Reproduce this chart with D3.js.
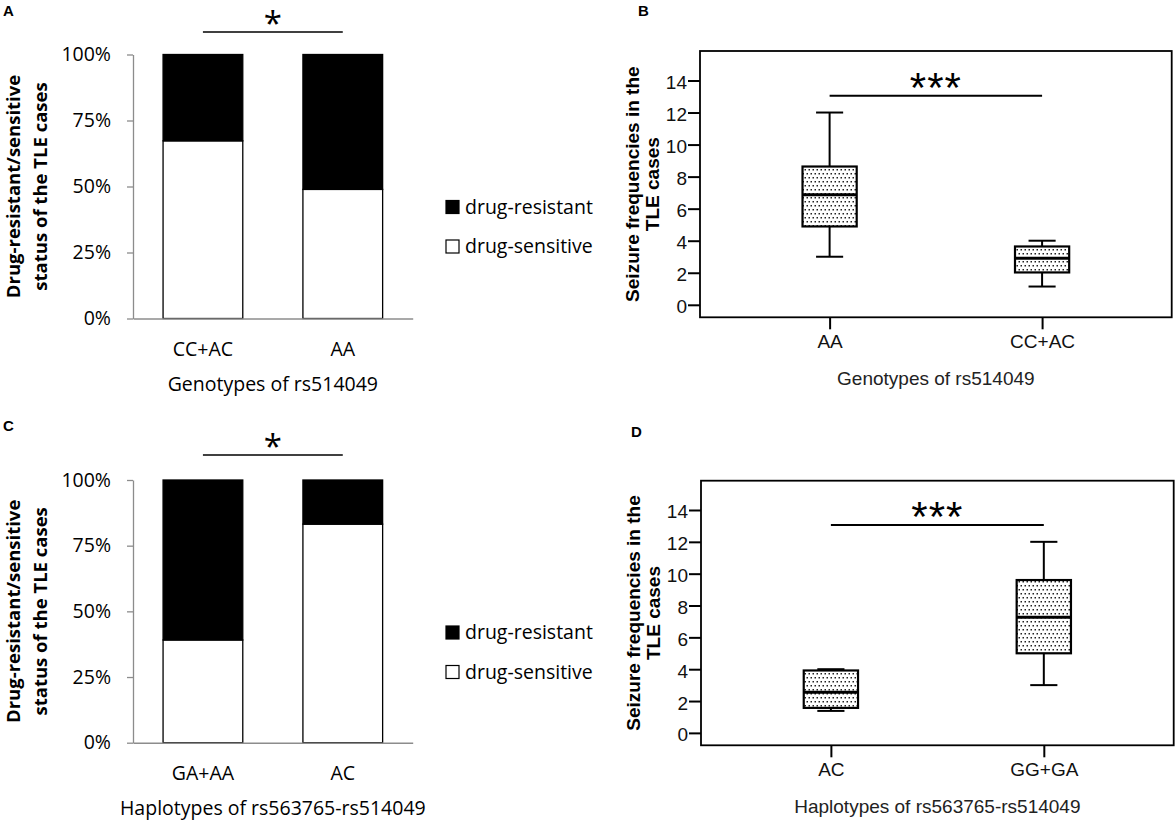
<!DOCTYPE html>
<html>
<head>
<meta charset="utf-8">
<script src="https://cdn.jsdelivr.net/npm/d3@7"></script>
<style>
  body { margin: 0; background: #fff; }
</style>
</head>
<body>
<svg id="fig" width="1176" height="822"></svg>
<script>
// ---- data ----
const stackKeys = ["drug-sensitive", "drug-resistant"];
const percentTicks = [0, 0.25, 0.5, 0.75, 1];

// A: genotypes of rs514049, share of drug-sensitive cases
const genotypesA = ["CC+AC", "AA"];
const sensitiveA = [0.673, 0.489];

// C: haplotypes of rs563765-rs514049
const haplotypesC = ["GA+AA", "AC"];
const sensitiveC = [0.391, 0.832];

// B: seizure frequencies by genotype (box stats)
const genotypesB = ["AA", "CC+AC"];
const minB = [3.0, 1.14];
const q1B = [4.89, 2.02];
const medianB = [6.87, 2.91];
const q3B = [8.63, 3.64];
const maxB = [12.0, 4.0];

// D: seizure frequencies by haplotype
const haplotypesD = ["AC", "GG+GA"];
const minD = [1.38, 3.0];
const q1D = [1.57, 5.0];
const medianD = [2.55, 7.26];
const q3D = [3.92, 9.6];
const maxD = [4.0, 12.0];

const freqTicks = [0, 2, 4, 6, 8, 10, 12, 14];
const freqDomain = [-0.78, 15.84];

const excelFont = "'Open Sans', sans-serif";
const spssFont = "'Liberation Sans', Arial, sans-serif";
const axisGray = "#8c8c8c";

const svg = d3.select("#fig");

// dotted fill used by the SPSS boxes
const pat = svg.append("defs").append("pattern")
  .attr("id", "dots")
  .attr("patternUnits", "userSpaceOnUse")
  .attr("width", 4)
  .attr("height", 8);
pat.append("rect").attr("width", 4).attr("height", 8).attr("fill", "#fff");
pat.append("rect").attr("x", 0.5).attr("y", 1).attr("width", 1.5).attr("height", 1.5).attr("fill", "#222");
pat.append("rect").attr("x", 2.5).attr("y", 5).attr("width", 1.5).attr("height", 1.5).attr("fill", "#222");

function panelLabel(text, x, y) {
  svg.append("text")
    .attr("x", x).attr("y", y)
    .attr("font-family", spssFont)
    .attr("font-weight", "bold")
    .attr("font-size", 15)
    .text(text);
}

function drawStacked(p) {
  const g = svg.append("g");
  const x = d3.scaleBand().domain(p.cats).range([p.left, p.right])
    .paddingInner(0.43).paddingOuter(0.215);
  const y = d3.scaleLinear().domain([0, 1]).range([p.bottom, p.top]);

  const rows = p.cats.map((c, i) => ({
    cat: c,
    "drug-sensitive": p.sensitive[i],
    "drug-resistant": 1 - p.sensitive[i]
  }));
  const series = d3.stack().keys(stackKeys)(rows);

  g.selectAll("g.series")
    .data(series)
    .join("g")
    .attr("fill", d => d.key === "drug-resistant" ? "#000" : "#fff")
    .selectAll("rect")
    .data(d => d)
    .join("rect")
    .attr("x", d => x(d.data.cat))
    .attr("y", d => y(d[1]))
    .attr("width", x.bandwidth())
    .attr("height", d => y(d[0]) - y(d[1]))
    .attr("stroke", "#000")
    .attr("stroke-width", 1.3);

  const ya = g.append("g")
    .attr("transform", `translate(${p.left},0)`)
    .call(d3.axisLeft(y).tickValues(percentTicks).tickFormat(d3.format(".0%"))
      .tickSize(6).tickSizeOuter(0).tickPadding(16));
  ya.select(".domain").attr("stroke", axisGray).attr("stroke-width", 1.3);
  ya.selectAll(".tick line").attr("stroke", axisGray).attr("stroke-width", 1.3);
  ya.selectAll("text")
    .attr("font-family", excelFont).attr("font-size", 19.5).attr("fill", "#000");

  const xa = g.append("g")
    .attr("transform", `translate(0,${p.bottom})`)
    .call(d3.axisBottom(x).tickSize(0).tickSizeOuter(0).tickPadding(23.5));
  xa.select(".domain").attr("stroke", axisGray).attr("stroke-width", 1.6);
  xa.selectAll("text")
    .attr("font-family", excelFont).attr("font-size", 19.5).attr("fill", "#000");

  // x title
  g.append("text")
    .attr("x", (x(p.cats[0]) + x(p.cats[1]) + x.bandwidth()) / 2)
    .attr("y", p.bottom + 72)
    .attr("text-anchor", "middle")
    .attr("font-family", excelFont).attr("font-size", 19.5)
    .text(p.title);

  // y title, two lines
  const mid = (p.top + p.bottom) / 2;
  ["Drug-resistant/sensitive", "status of the TLE cases"].forEach((t, i) => {
    g.append("text")
      .attr("transform", `translate(${[19.5, 47][i]},${mid}) rotate(-90)`)
      .attr("text-anchor", "middle")
      .attr("font-family", excelFont).attr("font-weight", "bold").attr("font-size", 18.5)
      .text(t);
  });

  // significance bar
  const cx = p.cats.map(c => x(c) + x.bandwidth() / 2);
  const ly = y(p.sigLevel);
  g.append("line")
    .attr("x1", cx[0]).attr("x2", cx[1])
    .attr("y1", ly).attr("y2", ly)
    .attr("stroke", "#000").attr("stroke-width", 1.6);
  g.append("text")
    .attr("x", (cx[0] + cx[1]) / 2)
    .attr("y", ly + 3)
    .attr("text-anchor", "middle")
    .attr("font-family", excelFont).attr("font-size", 33)
    .text("*");

  // legend
  const lx = 446;
  [["drug-resistant", "#000"], ["drug-sensitive", "#fff"]].forEach(([name, fill], i) => {
    const by = p.top + 146 + i * 39.5;
    g.append("rect")
      .attr("x", lx).attr("y", by)
      .attr("width", 13).attr("height", 13)
      .attr("fill", fill).attr("stroke", "#000").attr("stroke-width", 1.2);
    g.append("text")
      .attr("x", lx + 19).attr("y", by + 13)
      .attr("font-family", excelFont).attr("font-size", 19.5)
      .text(name);
  });
}

function drawBox(p) {
  const g = svg.append("g");
  const x = d3.scalePoint().domain(p.cats).range([p.left, p.right]).padding(0.61);
  const y = d3.scaleLinear().domain(freqDomain).range([p.bottom, p.top]);
  const boxW = x.step() * 0.255;
  const capW = boxW / 2;

  g.append("rect")
    .attr("x", p.left).attr("y", p.top)
    .attr("width", p.right - p.left).attr("height", p.bottom - p.top)
    .attr("fill", "none").attr("stroke", "#000").attr("stroke-width", 1.8);

  const ya = g.append("g")
    .attr("transform", `translate(${p.left},0)`)
    .call(d3.axisLeft(y).tickValues(freqTicks).tickSize(12).tickPadding(1));
  ya.select(".domain").remove();
  ya.selectAll(".tick line").attr("stroke", "#000").attr("stroke-width", 2);
  ya.selectAll("text")
    .attr("font-family", spssFont).attr("font-size", 19).attr("fill", "#111")
    .attr("dy", "0.42em");

  const xa = g.append("g")
    .attr("transform", `translate(0,${p.bottom})`)
    .call(d3.axisBottom(x).tickSize(12).tickPadding(5));
  xa.select(".domain").remove();
  xa.selectAll(".tick line").attr("stroke", "#000").attr("stroke-width", 2);
  xa.selectAll("text")
    .attr("font-family", spssFont).attr("font-size", 19).attr("fill", "#111");

  g.append("text")
    .attr("x", (p.left + p.right) / 2)
    .attr("y", p.bottom + 68)
    .attr("text-anchor", "middle")
    .attr("font-family", spssFont).attr("font-size", 19).attr("fill", "#222")
    .text(p.title);

  const mid = (p.top + p.bottom) / 2;
  ["Seizure frequencies in the", "TLE cases"].forEach((t, i) => {
    g.append("text")
      .attr("transform", `translate(${p.left + [-61, -41][i]},${mid}) rotate(-90)`)
      .attr("text-anchor", "middle")
      .attr("font-family", spssFont).attr("font-weight", "bold").attr("font-size", 19)
      .text(t);
  });

  const stats = p.cats.map((c, i) => ({
    cat: c, min: p.min[i], q1: p.q1[i], median: p.median[i], q3: p.q3[i], max: p.max[i]
  }));
  const b = g.selectAll("g.box").data(stats).join("g");
  b.append("line")
    .attr("x1", d => x(d.cat)).attr("x2", d => x(d.cat))
    .attr("y1", d => y(d.max)).attr("y2", d => y(d.min))
    .attr("stroke", "#000").attr("stroke-width", 2);
  b.append("line")
    .attr("x1", d => x(d.cat) - capW / 2).attr("x2", d => x(d.cat) + capW / 2)
    .attr("y1", d => y(d.max)).attr("y2", d => y(d.max))
    .attr("stroke", "#000").attr("stroke-width", 2);
  b.append("line")
    .attr("x1", d => x(d.cat) - capW / 2).attr("x2", d => x(d.cat) + capW / 2)
    .attr("y1", d => y(d.min)).attr("y2", d => y(d.min))
    .attr("stroke", "#000").attr("stroke-width", 2);
  b.append("rect")
    .attr("x", d => x(d.cat) - boxW / 2)
    .attr("y", d => y(d.q3))
    .attr("width", boxW)
    .attr("height", d => y(d.q1) - y(d.q3))
    .attr("fill", "url(#dots)").attr("stroke", "#000").attr("stroke-width", 2.2);
  b.append("line")
    .attr("x1", d => x(d.cat) - boxW / 2).attr("x2", d => x(d.cat) + boxW / 2)
    .attr("y1", d => y(d.median)).attr("y2", d => y(d.median))
    .attr("stroke", "#000").attr("stroke-width", 3);

  const ly = y(p.sigLevel);
  g.append("line")
    .attr("x1", x(p.cats[0])).attr("x2", x(p.cats[1]))
    .attr("y1", ly).attr("y2", ly)
    .attr("stroke", "#000").attr("stroke-width", 2);
  g.append("text")
    .attr("x", (x(p.cats[0]) + x(p.cats[1])) / 2)
    .attr("y", ly + 6)
    .attr("text-anchor", "middle")
    .attr("font-family", spssFont).attr("font-size", 42)
    .attr("letter-spacing", 1)
    .text("***");
}

panelLabel("A", 3, 15.5);
panelLabel("B", 638, 16);
panelLabel("C", 3, 431);
panelLabel("D", 631, 437);

drawStacked({
  cats: genotypesA, sensitive: sensitiveA,
  left: 133, right: 412.7, top: 54.5, bottom: 318.5,
  title: "Genotypes of rs514049", sigLevel: 1.085
});
drawStacked({
  cats: haplotypesC, sensitive: sensitiveC,
  left: 133, right: 412.7, top: 480, bottom: 742.7,
  title: "Haplotypes of rs563765-rs514049", sigLevel: 1.095
});
drawBox({
  cats: genotypesB, min: minB, q1: q1B, median: medianB, q3: q3B, max: maxB,
  left: 700, right: 1171.7, top: 51, bottom: 317.3,
  title: "Genotypes of rs514049", sigLevel: 13.05
});
drawBox({
  cats: haplotypesD, min: minD, q1: q1D, median: medianD, q3: q3D, max: maxD,
  left: 701, right: 1173.7, top: 480.7, bottom: 745.3,
  title: "Haplotypes of rs563765-rs514049", sigLevel: 13.05
});
</script>
</body>
</html>
